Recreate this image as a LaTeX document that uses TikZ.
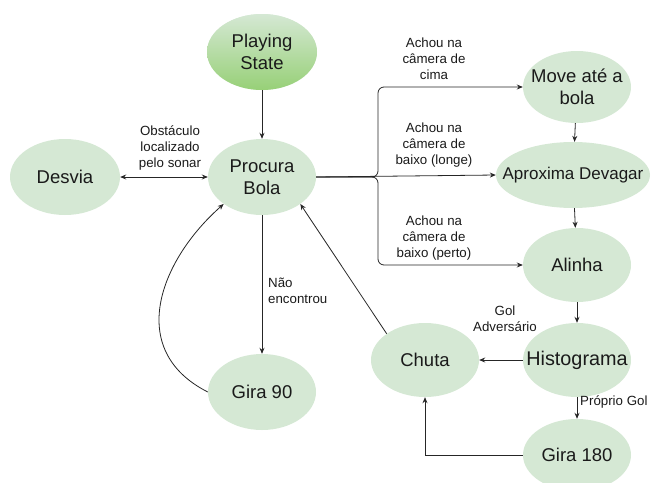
\documentclass[tikz,border=0pt]{standalone}
\usepackage{fontspec}
\setmainfont{Liberation Sans}
\usetikzlibrary{shapes.geometric,arrows.meta}
\definecolor{nodegreen}{HTML}{D5E8D4}
\definecolor{darkgreen}{HTML}{97D077}
\definecolor{txt}{HTML}{1A1A1A}
\tikzset{
  state/.style={ellipse, fill=nodegreen, draw=none, inner sep=0pt},
  stxt/.style={align=center, text=txt, font=\fontsize{18.5}{22}\selectfont, inner sep=0pt},
  lbl/.style={align=center, text=txt, font=\fontsize{13.3}{16}\selectfont, inner sep=0pt},
  arr/.style={-{Stealth[length=6pt,width=5pt]}, line width=0.8pt, draw=black!85},
}
\begin{document}
\begin{tikzpicture}[x=1pt,y=-1pt]
\useasboundingbox (0,0) rectangle (652,482);
% nodes
\node[state, top color=nodegreen, bottom color=darkgreen, minimum width=110pt, minimum height=76pt,
  label={[stxt]center:{Playing\\State}}] (ps) at (262,52) {};
\node[state, minimum width=108pt, minimum height=76pt, label={[stxt]center:{Procura\\Bola}}] (pb) at (262,177) {};
\node[state, minimum width=110pt, minimum height=76pt, label={[stxt]center:Desvia}] (de) at (65,177) {};
\node[state, minimum width=108pt, minimum height=76pt, label={[stxt]center:Gira 90}] (g90) at (262,392) {};
\node[state, minimum width=108pt, minimum height=72pt, label={[stxt]center:{Move até a\\bola}}] (mv) at (577,87) {};
\node[state, minimum width=154pt, minimum height=66pt, label={[stxt, font=\fontsize{17}{20}\selectfont]center:Aproxima Devagar}] (ap) at (573,175) {};
\node[state, minimum width=108pt, minimum height=74pt, label={[stxt]center:Alinha}] (al) at (577,265) {};
\node[state, minimum width=108pt, minimum height=74pt, label={[stxt, font=\fontsize{19.8}{23}\selectfont]center:Histograma}] (hi) at (577,360) {};
\node[state, minimum width=108pt, minimum height=74pt, label={[stxt]center:Chuta}] (ch) at (425,360) {};
\node[state, minimum width=108pt, minimum height=72pt, label={[stxt]center:Gira 180}] (g180) at (577,455) {};
% labels
\node[lbl] (l1) at (170,148) {Obstáculo\\localizado\\pelo sonar};
\node[lbl] (l2) at (434,59) {Achou na\\câmera de\\cima};
\node[lbl] (l3) at (434,145) {Achou na\\câmera de\\baixo (longe)};
\node[lbl] (l4) at (434,238) {Achou na\\câmera de\\baixo (perto)};
\node[lbl, align=left, anchor=west] (l5) at (268,291) {Não\\encontrou};
\node[lbl] (l6) at (505,319) {Gol\\Adversário};
\node[lbl, anchor=west] (l7) at (580,402) {Próprio Gol};
% junction coordinates
\coordinate (j) at (378,177);
% edges
\draw[arr] (ps) -- (pb);
\draw[arr, {Stealth[length=6pt,width=5pt]}-{Stealth[length=6pt,width=5pt]}] (de) -- (pb);
\draw[arr] (pb) -- (g90);
\draw[arr] (g90.west) .. controls (125,350) and (160,260) .. (pb.south west);
\draw[arr] (ch.north west) -- (pb.south east);
\draw[arr, rounded corners=6pt] (pb.east) -- (j) |- (mv.west);
\draw[arr] (pb.east) -- (ap.west);
\draw[arr, rounded corners=6pt] (pb.east) -- (j) |- (al.west);
\draw[arr] (mv) -- (ap);
\draw[arr] (ap) -- (al);
\draw[arr] (al) -- (hi);
\draw[arr] (hi) -- (ch);
\draw[arr] (hi) -- (g180);
\draw[arr] (g180.west) -| (ch.south);
\end{tikzpicture}
\end{document}
